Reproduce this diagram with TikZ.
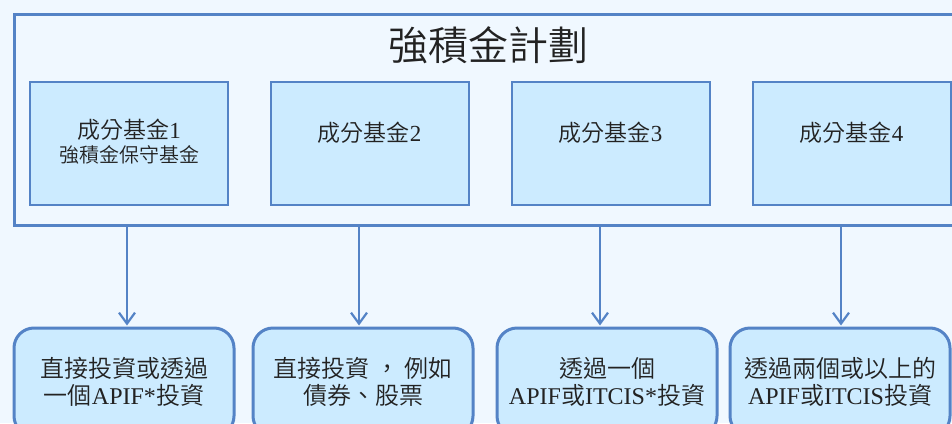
\documentclass[tikz,border=0pt]{standalone}
\usepackage{fontspec}
\setmainfont{Liberation Serif}
\newfontfamily\cjk{Noto Sans CJK TC}[UprightFont={* DemiLight}]
\usetikzlibrary{arrows.meta, positioning, calc}
\definecolor{planline}{RGB}{84,131,198}
\definecolor{fundfill}{RGB}{204,235,255}
\definecolor{planbg}{RGB}{240,248,255}
\definecolor{inktext}{RGB}{34,34,34}

\begin{document}
\begin{tikzpicture}[x=1pt,y=-1pt,>={Straight Barb[length=11pt,width=16pt]},shorten >=1pt,
		fund node/.style={rectangle,draw=planline,line width=2pt,fill=fundfill,
			minimum width=198pt,minimum height=123pt,inner sep=0pt},
		way node/.style={rectangle,rounded corners=20pt,draw=planline,line width=3pt,fill=fundfill,
			minimum width=220pt,minimum height=108pt,inner sep=0pt,
			text=inktext,align=center,font=\fontsize{24}{27}\selectfont},
		fund text/.style={text=inktext,align=center,font=\fontsize{23}{24}\selectfont}]
		
		\fill[planbg] (0,0) rectangle (952,423);
		\useasboundingbox (0,0) rectangle (952,423);
		\clip (0,0) rectangle (952,423);
		
		% plan frame and title
		\node[draw=planline,line width=3pt,minimum width=962pt,minimum height=211pt,
			inner sep=0pt,anchor=north west] (plan) at (13,13) {};
		\node[text=inktext,font=\cjk\fontsize{40}{40}\selectfont] (title) at (488,45) {強積金計劃};
		
		% constituent funds
		\node[fund node] (f1) at (129,143.5) {};
		\node[fund node] (f2) at (369.5,143.5) {};
		\node[fund node] (f3) at (610.5,143.5) {};
		\node[fund node] (f4) at (851.5,143.5) {};
		
		\node[fund text] (l1) at ([yshift=1.5pt]f1.center) {{\cjk 成分基金}1\\{\cjk\fontsize{20}{24}\selectfont 強積金保守基金}};
		\node[fund text] (l2) at ([yshift=10.5pt]f2.center) {{\cjk 成分基金}2};
		\node[fund text] (l3) at ([yshift=10.5pt]f3.center) {{\cjk 成分基金}3};
		\node[fund text] (l4) at ([yshift=10.5pt]f4.center) {{\cjk 成分基金}4};
		
		% ways of investing
		\node[way node] (w1) at (124,382) {{\cjk 直接投資或透過}\\{\cjk 一個}APIF*{\cjk 投資}};
		\node[way node] (w2) at (363,382) {{\cjk 直接投資 ， 例如}\\{\cjk 債券、股票}};
		\node[way node] (w3) at (607,382) {{\cjk 透過一個}\\APIF{\cjk 或}ITCIS*{\cjk 投資}};
		\node[way node] (w4) at (840,382) {{\cjk 透過兩個或以上的}\\APIF{\cjk 或}ITCIS{\cjk 投資}};
		
		\coordinate (a1) at (127,224);
		\coordinate (a2) at (359,224);
		\coordinate (a3) at (600,224);
		\coordinate (a4) at (841,224);
		
		\path[draw=planline,line width=2.2pt]
		(a1) edge[->] (a1 |- w1.north)
		(a2) edge[->] (a2 |- w2.north)
		(a3) edge[->] (a3 |- w3.north)
		(a4) edge[->] (a4 |- w4.north);
		
	\end{tikzpicture}
\end{document}
